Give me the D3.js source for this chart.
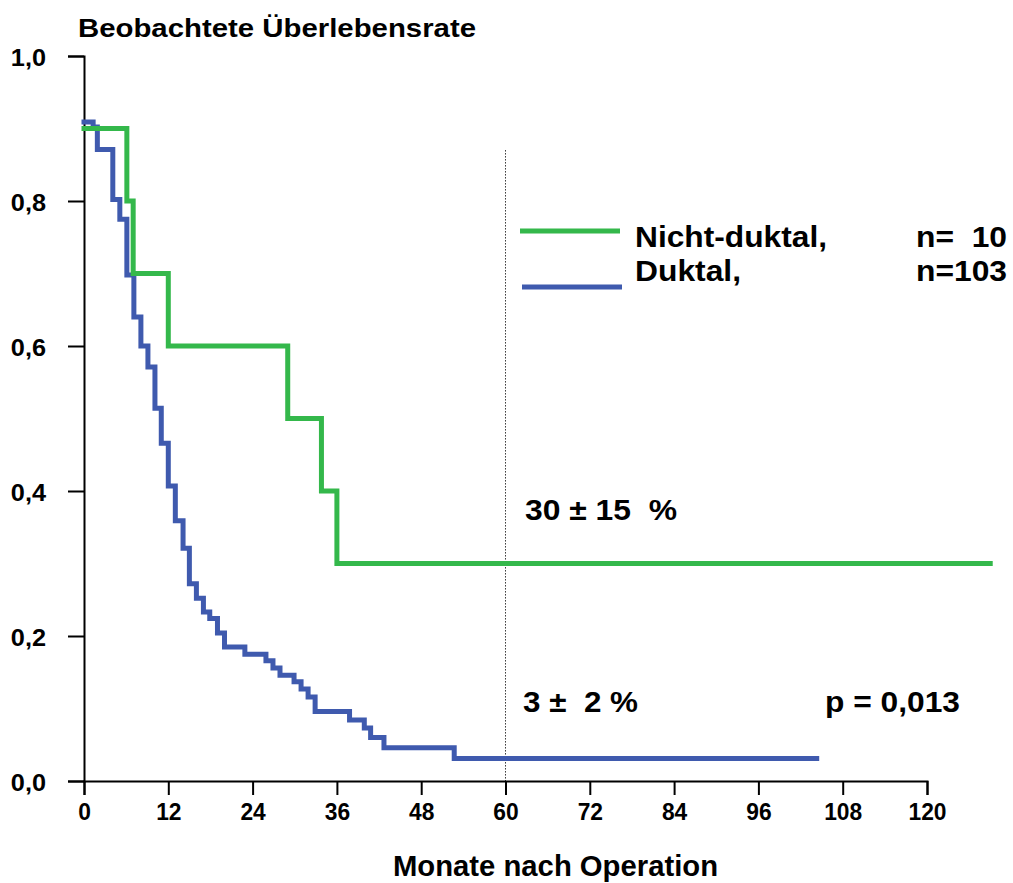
<!DOCTYPE html>
<html>
<head>
<meta charset="utf-8">
<script src="https://cdn.jsdelivr.net/npm/d3@7"></script>
<style>
  html, body { margin: 0; padding: 0; background: #fff; }
  text { font-family: "Liberation Sans", Arial, Helvetica, sans-serif; font-weight: bold; fill: #000; white-space: pre; }
</style>
</head>
<body>
<svg id="chart" width="1013" height="883"></svg>
<script>
// ---- Data ----
const xTicks = [0, 12, 24, 36, 48, 60, 72, 84, 96, 108, 120];
const yTicks = [0, 0.2, 0.4, 0.6, 0.8, 1.0];

const seriesNames = ["Nicht-duktal,", "Duktal,"];
const seriesN = ["n=  10", "n=103"];

// Nicht-duktal (green) – months / survival (step after)
const greenMonths = [0, 6.1, 7.0, 12.0, 29.0, 33.8, 36.0, 129.0];
const greenSurv   = [0.90, 0.80, 0.70, 0.60, 0.50, 0.40, 0.30, 0.30];

// Duktal (blue) – months / survival (step after)
const blueMonths = [0, 1.3, 1.9, 4.1, 5.1, 6.1, 7.1, 8.1, 9.1, 10.1, 11.0, 12.0, 13.0, 14.1, 15.0, 16.0, 17.0, 17.9, 19.0, 20.0, 22.9, 25.9, 26.9, 27.9, 29.9, 30.9, 31.9, 32.9, 37.8, 39.9, 40.8, 42.7, 52.7, 104.3];
const blueSurv   = [0.909, 0.902, 0.871, 0.802, 0.775, 0.698, 0.640, 0.600, 0.571, 0.514, 0.466, 0.407, 0.359, 0.321, 0.272, 0.252, 0.233, 0.224, 0.204, 0.185, 0.175, 0.166, 0.156, 0.146, 0.137, 0.127, 0.116, 0.096, 0.084, 0.073, 0.060, 0.046, 0.031, 0.031];

const refMonth = 60;        // dotted reference line
const refTop = 0.87;

const annoGreen = "30 ± 15  %";
const annoBlue = "3 ±  2 %";
const annoP = "p = 0,013";
const yTitle = "Beobachtete Überlebensrate";
const xTitle = "Monate nach Operation";

// ---- Layout ----
const green = "#34b84b";
const blue = "#3f5aae";
const svg = d3.select("#chart");

const x = d3.scaleLinear().domain([0, 120]).range([84, 927]);
const y = d3.scaleLinear().domain([0, 1]).range([781, 56]);

function stretchTo(sel, width) {
  sel.each(function () {
    this.setAttribute("textLength", width);
    this.setAttribute("lengthAdjust", "spacingAndGlyphs");
  });
}
function stretchBy(sel, f) {
  sel.each(function () {
    const w = this.getComputedTextLength();
    this.setAttribute("textLength", w * f);
    this.setAttribute("lengthAdjust", "spacingAndGlyphs");
  });
}

// Y axis
const yAxis = svg.append("g")
  .attr("transform", `translate(${x(0)},0)`)
  .call(d3.axisLeft(y).tickValues(yTicks).tickSize(16).tickPadding(22)
    .tickFormat(d => d.toFixed(1).replace(".", ",")));
yAxis.select(".domain").attr("stroke", "#000").attr("stroke-width", 2);
yAxis.selectAll(".tick line").attr("stroke", "#000").attr("stroke-width", 2);
yAxis.selectAll(".tick text").attr("font-size", 23).attr("dy", "0.4em")
  .style("font-family", '"Liberation Sans", Arial, sans-serif').style("font-weight", "bold");
stretchBy(yAxis.selectAll(".tick text"), 1.1);

// X axis
const xAxis = svg.append("g")
  .attr("transform", `translate(0,${y(0)})`)
  .call(d3.axisBottom(x).tickValues(xTicks).tickSize(14).tickPadding(8));
xAxis.select(".domain").attr("stroke", "#000").attr("stroke-width", 2);
xAxis.selectAll(".tick line").attr("stroke", "#000").attr("stroke-width", 2);
xAxis.selectAll(".tick text").attr("font-size", 24)
  .style("font-family", '"Liberation Sans", Arial, sans-serif').style("font-weight", "bold");
stretchBy(xAxis.selectAll(".tick text"), 0.95);

// reference dotted line at 60 months
svg.append("line")
  .attr("x1", x(refMonth)).attr("x2", x(refMonth))
  .attr("y1", y(refTop)).attr("y2", y(0))
  .attr("stroke", "#000").attr("stroke-width", 1).attr("stroke-dasharray", "1.2,1.8");

// curves
const line = d3.line().x(d => x(d[0])).y(d => y(d[1])).curve(d3.curveStepAfter);
const greenData = greenMonths.map((m, i) => [m, greenSurv[i]]);
const blueData = blueMonths.map((m, i) => [m, blueSurv[i]]);

svg.append("path").datum(blueData).attr("d", line)
  .attr("fill", "none").attr("stroke", blue).attr("stroke-width", 5).attr("stroke-linejoin", "miter").attr("stroke-linecap", "square");
svg.append("path").datum(greenData).attr("d", line)
  .attr("fill", "none").attr("stroke", green).attr("stroke-width", 5).attr("stroke-linejoin", "miter").attr("stroke-linecap", "square");

// legend
const legend = svg.append("g");
[green, blue].forEach((c, i) => {
  legend.append("line")
    .attr("x1", 520 + i * 2).attr("x2", 620 + i * 2)
    .attr("y1", 231 + i * 56).attr("y2", 231 + i * 56)
    .attr("stroke", c).attr("stroke-width", 5);
});
const nameWidths = [192, 106];
seriesNames.forEach((s, i) => {
  const t = legend.append("text").attr("x", 635).attr("y", 246.5 + i * 34)
    .attr("font-size", 30).text(s);
  stretchTo(t, nameWidths[i]);
  const n = legend.append("text").attr("x", 1007).attr("y", 246.5 + i * 34)
    .attr("font-size", 30).attr("text-anchor", "end").text(seriesN[i]);
  stretchTo(n, 91);
});

// annotations
stretchTo(svg.append("text").attr("x", 525).attr("y", 520).attr("font-size", 30).text(annoGreen), 152);
stretchTo(svg.append("text").attr("x", 523).attr("y", 711.5).attr("font-size", 30).text(annoBlue), 115);
stretchTo(svg.append("text").attr("x", 825).attr("y", 711.5).attr("font-size", 30).text(annoP), 135);

// titles
stretchTo(svg.append("text").attr("x", 78).attr("y", 37).attr("font-size", 25).text(yTitle), 398);
stretchTo(svg.append("text").attr("x", 393).attr("y", 876).attr("font-size", 29).text(xTitle), 325);
</script>
</body>
</html>
